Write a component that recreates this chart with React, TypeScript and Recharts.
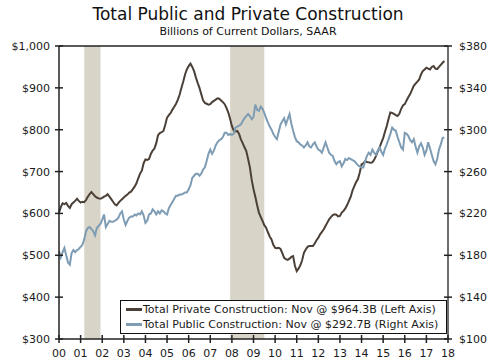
import React from "react";
import { LineChart, Line, XAxis, YAxis, ReferenceArea, ReferenceLine } from "recharts";

// Monthly, Jan 2000 - Nov 2017, billions of current dollars, SAAR
const privateConstruction = [
  602, 615, 624, 622, 625, 618, 613, 622, 626, 630, 635, 630, // 2000
  626, 628, 627, 632, 640, 646, 651, 646, 641, 638, 636, 635, // 2001
  637, 640, 642, 646, 640, 634, 628, 622, 619, 625, 630, 634, // 2002
  638, 642, 645, 650, 652, 658, 664, 672, 684, 695, 702, 720, // 2003
  729, 728, 730, 742, 750, 755, 768, 787, 792, 794, 797, 812, // 2004
  829, 835, 840, 848, 855, 862, 872, 884, 900, 915, 932, 944, // 2005
  952, 958, 950, 940, 925, 912, 900, 885, 870, 864, 862, 860, // 2006
  861, 866, 869, 872, 875, 874, 870, 866, 861, 852, 841, 826, // 2007
  809, 798, 796, 797, 790, 777, 768, 758, 749, 730, 710, 680, // 2008
  658, 640, 620, 602, 592, 582, 572, 566, 555, 545, 538, 525, // 2009
  518, 517, 518, 515, 505, 494, 491, 489, 492, 496, 498, 475, // 2010
  462, 468, 476, 488, 506, 514, 520, 522, 522, 522, 528, 536, // 2011
  542, 550, 556, 562, 570, 578, 586, 591, 596, 598, 597, 593, // 2012
  594, 602, 606, 612, 620, 630, 640, 655, 665, 675, 682, 698, // 2013
  717, 720, 725, 723, 722, 721, 722, 728, 737, 748, 758, 769, // 2014
  780, 795, 809, 826, 841, 840, 838, 835, 833, 838, 850, 858, // 2015
  861, 870, 878, 885, 895, 905, 910, 915, 920, 932, 940, 944, // 2016
  948, 946, 944, 950, 952, 946, 945, 950, 955, 960, 964.3, // 2017
];

const publicConstruction = [
  184, 178, 183, 187, 180, 173, 171, 182, 185, 183, 185, 186, // 2000
  188, 190, 195, 203, 206, 207, 205, 203, 199, 206, 208, 210, // 2001
  214, 219, 207, 210, 213, 212, 212, 213, 214, 216, 220, 222, // 2002
  214, 209, 213, 216, 217, 217, 219, 218, 220, 219, 222, 218, // 2003
  211, 213, 219, 220, 224, 222, 219, 222, 220, 223, 222, 220, // 2004
  219, 225, 228, 231, 234, 237, 237, 238, 238, 239, 240, 240, // 2005
  243, 247, 254, 256, 258, 258, 256, 258, 262, 264, 270, 277, // 2006
  281, 277, 280, 285, 288, 290, 291, 293, 297, 297, 295, 296, // 2007
  295, 296, 302, 303, 304, 305, 308, 311, 313, 315, 313, 310, // 2008
  312, 324, 319, 318, 322, 320, 316, 311, 307, 303, 300, 296, // 2009
  293, 291, 298, 305, 308, 311, 305, 310, 315, 306, 299, 293, // 2010
  289, 288, 286, 285, 283, 285, 288, 284, 283, 286, 288, 284, // 2011
  281, 280, 278, 283, 288, 283, 278, 276, 275, 270, 267, 269, // 2012
  270, 265, 268, 272, 271, 273, 272, 271, 270, 268, 266, 265, // 2013
  264, 264, 270, 275, 278, 276, 281, 278, 276, 280, 283, 279, // 2014
  276, 282, 286, 291, 296, 302, 300, 299, 293, 288, 283, 281, // 2015
  297, 296, 294, 290, 288, 291, 284, 278, 284, 287, 283, 276, // 2016
  280, 288, 282, 276, 270, 267, 272, 281, 286, 292, 292.7, // 2017
];

const yearLabels = ["00", "01", "02", "03", "04", "05", "06", "07", "08", "09",
  "10", "11", "12", "13", "14", "15", "16", "17", "18"];
const leftTicks = [300, 400, 500, 600, 700, 800, 900, 1000];
const rightTicks = [100, 140, 180, 220, 260, 300, 340, 380];
// recessions, in years since Jan 2000
const recessions = [
  { start: 1.17, end: 1.92 },
  { start: 7.92, end: 9.5 },
];

const series = [
  { key: "private", axis: "left", color: "#4b4038", name: "Total Private Construction: Nov @ $964.3B (Left Axis)" },
  { key: "public", axis: "right", color: "#7e9cb4", name: "Total Public Construction: Nov @ $292.7B (Right Axis)" },
];

const data = privateConstruction.map((v, i) => ({
  t: i / 12,
  private: v,
  public: publicConstruction[i],
}));

const FONT = "'DejaVu Sans', Verdana, sans-serif";
const TEXT = "#1a1a1a";

const LeftTick = (props: any) => {
  const { x, y, payload } = props;
  return (
    <g>
      <line x1={x - 4} x2={x + 4} y1={y} y2={y} stroke="#222" strokeWidth={1.5} />
      <text x={x - 9} y={y} dy={4} textAnchor="end" fontSize={11} fill={TEXT} fontFamily={FONT}>
        ${payload.value.toLocaleString("en-US")}
      </text>
    </g>
  );
};

const RightTick = (props: any) => {
  const { x, y, payload } = props;
  return (
    <g>
      <line x1={x - 4} x2={x + 4} y1={y} y2={y} stroke="#222" strokeWidth={1.5} />
      <text x={x + 11} y={y} dy={4} textAnchor="start" fontSize={11} fill={TEXT} fontFamily={FONT}>
        ${payload.value}
      </text>
    </g>
  );
};

const BottomTick = (props: any) => {
  const { x, y, payload } = props;
  return (
    <g>
      <line x1={x} x2={x} y1={y - 4} y2={y + 4} stroke="#222" strokeWidth={1.5} />
      <text x={x} y={y} dy={18} textAnchor="middle" fontSize={11} fill={TEXT} fontFamily={FONT}>
        {yearLabels[Math.round(payload.value)]}
      </text>
    </g>
  );
};

export default function App() {
  return (
    <div style={{ position: "absolute", left: 0, top: 0, width: 500, height: 362, background: "#fff", fontFamily: FONT }}>
      <div style={{ position: "absolute", left: 0, top: 4, width: 496, textAlign: "center", fontSize: 17, color: "#111" }}>
        Total Public and Private Construction
      </div>
      <div style={{ position: "absolute", left: 0, top: 25, width: 496, textAlign: "center", fontSize: 11, color: "#111" }}>
        Billions of Current Dollars, SAAR
      </div>
      <LineChart width={500} height={362} data={data} margin={{ top: 46, right: 0, bottom: 0, left: 0 }}>
        {recessions.map((r, i) => (
          <ReferenceArea key={i} yAxisId="left" x1={r.start} x2={r.end} y1={300} y2={1000}
            fill="#d8d4c8" fillOpacity={1} stroke="none" ifOverflow="hidden" />
        ))}
        <XAxis dataKey="t" type="number" domain={[0, 18]} ticks={yearLabels.map((_, i) => i)}
          height={23} tickSize={0} tickMargin={0} tickLine={false}
          axisLine={{ stroke: "#222", strokeWidth: 1.5 }} tick={<BottomTick />} interval={0} />
        <YAxis yAxisId="left" orientation="left" domain={[300, 1000]} ticks={leftTicks} width={59}
          tickSize={0} tickMargin={0} tickLine={false}
          axisLine={{ stroke: "#222", strokeWidth: 1.5 }} tick={<LeftTick />} interval={0} />
        <YAxis yAxisId="right" orientation="right" domain={[100, 380]} ticks={rightTicks} width={52}
          tickSize={0} tickMargin={0} tickLine={false}
          axisLine={{ stroke: "#6e6e6e", strokeWidth: 2 }} tick={<RightTick />} interval={0} />
        <ReferenceLine yAxisId="left" y={1000} stroke="#222" strokeWidth={1.5} />
        {series.map((s) => (
          <Line key={s.key} yAxisId={s.axis} dataKey={s.key} name={s.name} stroke={s.color}
            strokeWidth={2} dot={false} type="linear" isAnimationActive={false} />
        ))}
      </LineChart>
      <div style={{ position: "absolute", left: 120, top: 300, width: 320, height: 31, border: "1px solid #111",
        background: "#fff", fontSize: 11, color: TEXT, padding: "1px 0 0 5px", boxSizing: "content-box" }}>
        {series.map((s) => (
          <div key={s.key} style={{ display: "flex", alignItems: "center", height: 15, whiteSpace: "nowrap" }}>
            <span style={{ display: "inline-block", width: 16, height: 2.5, background: s.color, marginRight: 1 }} />
            <span>{s.name}</span>
          </div>
        ))}
      </div>
    </div>
  );
}
